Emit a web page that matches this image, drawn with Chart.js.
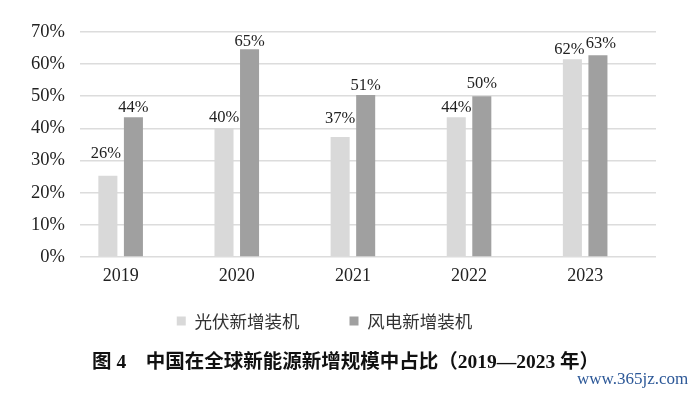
<!DOCTYPE html>
<html><head><meta charset="utf-8">
<script src="https://cdn.jsdelivr.net/npm/chart.js@4/dist/chart.umd.min.js"></script>
<style>
html,body{margin:0;padding:0;background:#fff;overflow:hidden;width:700px;height:394px;}
#wrap{position:absolute;left:-7px;top:0;width:707px;height:394px;}
#cap{position:absolute;left:92px;top:350px;font-weight:bold;font-size:19.5px;font-family:"Liberation Serif","Noto Sans CJK SC";color:#111;white-space:nowrap;line-height:24px}
#wm{position:absolute;left:577px;top:368px;font-size:17px;font-family:"Liberation Serif";color:#2b5797;white-space:nowrap;line-height:22px}
</style></head>
<body>
<div id="wrap"><canvas id="c"></canvas></div>
<div id="cap">图 4　中国在全球新能源新增规模中占比（2019—2023 年）</div>
<div id="wm">www.365jz.com</div>
<script>
// ---- data ----
const years = ['2019', '2020', '2021', '2022', '2023'];
const solarShare = [25.3, 40.1, 37.3, 43.5, 61.5];
const windShare = [43.5, 64.6, 50.4, 50.0, 62.8];
const solarLabels = ['26%', '40%', '37%', '44%', '62%'];
const windLabels = ['44%', '65%', '51%', '50%', '63%'];
const seriesNames = ['光伏新增装机', '风电新增装机'];

const barLabels = {
  id: 'barLabels',
  afterDatasetsDraw(chart, args, opts) {
    const ctx = chart.ctx;
    ctx.save();
    ctx.font = opts.font;
    ctx.fillStyle = opts.color;
    ctx.textAlign = 'center';
    ctx.textBaseline = 'alphabetic';
    chart.data.datasets.forEach((ds, di) => {
      const meta = chart.getDatasetMeta(di);
      meta.data.forEach((bar, i) => {
        const n = (opts.nudge[di] || [])[i] || [0, 0];
        ctx.fillText(ds.valueLabels[i], bar.x + n[0], bar.y - opts.gap + n[1]);
      });
    });
    ctx.restore();
  }
};

// pull the legend row up closer to the axis labels
const legendLift = {
  id: 'legendLift',
  afterLayout(chart, args, opts) {
    if (chart.legend) {
      chart.legend.top -= opts.lift;
      chart.legend.bottom -= opts.lift;
    }
  }
};

const toPoints = arr => arr.map((v, i) => ({ x: i, y: v }));

new Chart(document.getElementById('c'), {
  type: 'bar',
  data: {
    datasets: [
      { label: seriesNames[0], data: toPoints(solarShare), valueLabels: solarLabels,
        backgroundColor: '#d9d9d9', borderWidth: 0 },
      { label: seriesNames[1], data: toPoints(windShare), valueLabels: windLabels,
        backgroundColor: '#a0a0a0', borderWidth: 0 }
    ]
  },
  options: {
    responsive: true,
    maintainAspectRatio: false,
    devicePixelRatio: 1,
    animation: false,
    categoryPercentage: 0.44,
    barPercentage: 0.745,
    layout: { padding: { top: 32, right: 44, left: 0, bottom: 21.9 } },
    scales: {
      x: {
        type: 'linear',
        offset: false,
        min: -0.35,
        max: 4.61,
        grid: { display: false, drawTicks: false, offset: false },
        border: { display: false },
        ticks: {
          stepSize: 1,
          includeBounds: false,
          autoSkip: false,
          maxRotation: 0,
          padding: 8,
          color: '#222',
          font: { family: 'Liberation Serif', size: 18 },
          callback: v => (Number.isInteger(v) && years[v] !== undefined) ? years[v] : ''
        }
      },
      y: {
        min: 0,
        max: 70,
        grid: { color: '#dcdcdc', lineWidth: 1.6, drawTicks: false },
        border: { display: false },
        ticks: {
          stepSize: 10,
          padding: 15,
          color: '#222',
          font: { family: 'Liberation Serif', size: 18.5 },
          callback: v => v + '%'
        },
        afterFit(scale) { scale.width = 87; }
      }
    },
    plugins: {
      legend: {
        position: 'bottom',
        labels: {
          boxWidth: 9,
          boxHeight: 9,
          padding: 50,
          color: '#333',
          font: { family: 'Noto Sans CJK SC', size: 17.5 }
        }
      },
      legendLift: { lift: 32.3 },
      tooltip: { enabled: false },
      barLabels: {
        font: '16.5px "Liberation Serif"',
        color: '#222',
        gap: 5,
        nudge: [
          [[-2, -13], [0, -1], [0, -9], [0, 0], [-3, 0]],
          [[0, 0], [0, 2], [0, 0], [0, -3], [3, -2]]
        ]
      }
    }
  },
  plugins: [barLabels, legendLift]
});
</script>
</body></html>
